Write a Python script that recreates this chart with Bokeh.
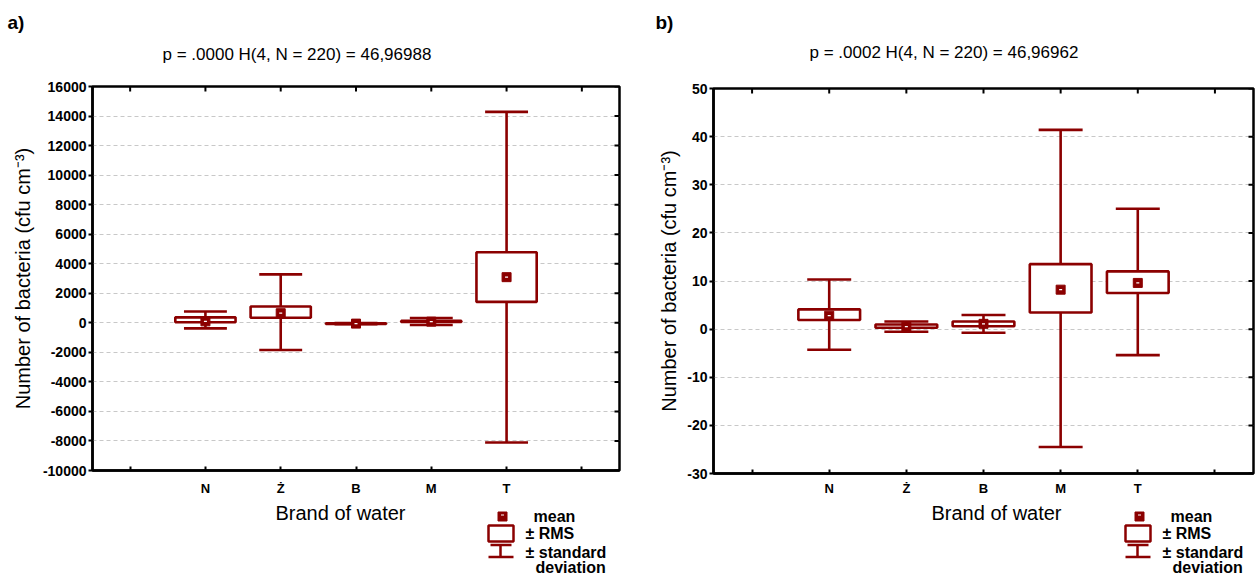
import math
from bokeh.plotting import figure
from bokeh.layouts import row, column
from bokeh.models import (ColumnDataSource, FixedTicker, Range1d, Label, Title,
                          BoxAnnotation, PolyAnnotation)
from bokeh.embed import file_html
from bokeh.resources import INLINE

# ---------------- data ----------------
categories = ["N", "Ż", "B", "M", "T"]
x_ticks = [0, 1, 2, 3, 4, 5, 6]

# panel a)
a_title = "p = .0000 H(4, N = 220) = 46,96988"
a_mean = [100, 650, -55, 80, 3090]
a_rms_lo = [40, 340, -75, 60, 1415]
a_rms_hi = [370, 1100, -35, 130, 4780]
a_sd_lo = [-380, -1840, -95, -150, -8100]
a_sd_hi = [770, 3280, -15, 330, 14280]
a_yticks = [-10000, -8000, -6000, -4000, -2000, 0, 2000, 4000, 6000, 8000,
            10000, 12000, 14000, 16000]

# panel b)
b_title = "p = .0002 H(4, N = 220) = 46,96962"
b_mean = [2.8, 0.5, 1.1, 8.2, 9.6]
b_rms_lo = [1.9, 0.3, 0.6, 3.45, 7.5]
b_rms_hi = [4.1, 0.95, 1.6, 13.5, 12.0]
b_sd_lo = [-4.3, -0.55, -0.75, -24.5, -5.4]
b_sd_hi = [10.3, 1.6, 2.95, 41.4, 25.0]
b_yticks = [-30, -20, -10, 0, 10, 20, 30, 40, 50]

x_label = "Brand of water"
y_label = "Number of bacteria (cfu cm\u207b\u00b3)"
legend_labels = ["mean", "\u00b1 RMS", "\u00b1 standard", "deviation"]

DARK = "#8b0000"
FONT = "Liberation Sans"
BOX_W = 0.8
CAP_W = 0.57
X_MIN, X_MAX = -0.5, 6.5

TOP_H = 66      # strip with panel letter and test title
MAIN_H = 432    # plotting area figure
BOT_H = 77      # strip with x title and legend


def blank_strip(width, height):
    s = figure(width=width, height=height, output_backend="svg", toolbar_location=None,
               x_range=Range1d(0, 1), y_range=Range1d(0, 1),
               x_axis_location=None, y_axis_location=None, title_location=None,
               min_border=0, min_border_left=0, min_border_right=0,
               min_border_top=0, min_border_bottom=0,
               outline_line_color=None, background_fill_color="white",
               border_fill_color="white")
    s.grid.visible = False
    return s


def label(p, x, y, text, size, bold=False, align="left", baseline="middle"):
    p.add_layout(Label(x=x, y=y, x_units="screen", y_units="screen", text=text,
                       text_align=align, text_baseline=baseline, text_font=FONT,
                       text_font_size=size, text_font_style="bold" if bold else "normal",
                       text_color="black"))


def box(p, l, r, b, t, fill, line, lw):
    p.add_layout(BoxAnnotation(left=l, right=r, bottom=b, top=t,
                               left_units="screen", right_units="screen",
                               top_units="screen", bottom_units="screen",
                               fill_color=fill, fill_alpha=1,
                               line_color=line, line_alpha=1, line_width=lw))


def make_main(mean, rms_lo, rms_hi, sd_lo, sd_hi, yticks, width, left, top,
              frame_w, frame_h, ylab_standoff, xlab_standoff):
    p = figure(width=width, height=MAIN_H, title_location=None,
               x_range=Range1d(X_MIN, X_MAX), y_range=Range1d(yticks[0], yticks[-1]),
               output_backend="svg", toolbar_location=None,
               min_border_left=left, min_border_top=top,
               min_border_right=width - left - frame_w,
               min_border_bottom=MAIN_H - top - frame_h,
               background_fill_color="white", border_fill_color="white")
    p.outline_line_color = "black"
    p.outline_line_width = 2.5

    x_over = {t: "" for t in x_ticks}
    for i, c in enumerate(categories):
        x_over[i + 1] = c

    for ax in (p.xaxis[0], p.yaxis[0]):
        ax.minor_tick_line_color = None
        ax.major_tick_line_color = "black"
        ax.major_tick_line_width = 2
        ax.axis_line_color = "black"
        ax.axis_line_width = 2.5
        ax.major_label_text_font = FONT
        ax.major_label_text_font_style = "bold"
        ax.major_label_text_color = "black"

    xa = p.xaxis[0]
    xa.ticker = FixedTicker(ticks=x_ticks)
    xa.major_label_overrides = x_over
    xa.major_label_text_font_size = "13px"
    xa.major_tick_in = 4
    xa.major_tick_out = 0
    xa.major_label_standoff = xlab_standoff

    ya = p.yaxis[0]
    ya.ticker = FixedTicker(ticks=yticks)
    ya.major_label_overrides = {t: str(t) for t in yticks}
    ya.major_label_text_font_size = "14px"
    ya.major_tick_in = 0
    ya.major_tick_out = 4
    ya.major_label_standoff = 2
    ya.axis_label = y_label
    ya.axis_label_text_font = FONT
    ya.axis_label_text_font_size = "20px"
    ya.axis_label_text_font_style = "normal"
    ya.axis_label_text_color = "black"
    ya.axis_label_standoff = ylab_standoff

    p.xgrid.visible = False
    p.ygrid.ticker = FixedTicker(ticks=yticks)
    p.ygrid.grid_line_color = "#c8c8c8"
    p.ygrid.grid_line_dash = "4 3"
    p.ygrid.grid_line_width = 1

    # inner tick marks on the top and right edges (half of each dash is clipped)
    p.scatter(x=x_ticks, y=[yticks[-1]] * len(x_ticks), marker="dash",
              angle=math.pi / 2, size=10, line_color="black", line_width=2)
    p.scatter(x=[X_MAX] * len(yticks), y=yticks, marker="dash", size=10,
              line_color="black", line_width=2)

    xs = [i + 1 for i in range(len(categories))]
    src = ColumnDataSource(dict(
        x=xs, mean=mean, rms_lo=rms_lo, rms_hi=rms_hi, sd_lo=sd_lo, sd_hi=sd_hi,
        cap_l=[v - CAP_W / 2 for v in xs], cap_r=[v + CAP_W / 2 for v in xs],
    ))
    p.segment(x0="x", y0="sd_lo", x1="x", y1="sd_hi", source=src,
              line_color=DARK, line_width=2.6)
    p.segment(x0="cap_l", y0="sd_hi", x1="cap_r", y1="sd_hi", source=src,
              line_color=DARK, line_width=2.6)
    p.segment(x0="cap_l", y0="sd_lo", x1="cap_r", y1="sd_lo", source=src,
              line_color=DARK, line_width=2.6)
    p.vbar(x="x", width=BOX_W, bottom="rms_lo", top="rms_hi", source=src,
           fill_color="white", line_color=DARK, line_width=2.6)
    p.scatter(x="x", y="mean", source=src, marker="square", size=9,
              fill_color=DARK, line_color=DARK, line_width=1)
    p.scatter(x="x", y="mean", source=src, marker="dash", size=3,
              line_color="white", line_width=1.2)
    return p


def make_top(width, letter, letter_offset, title, title_x, title_base):
    s = blank_strip(width, TOP_H)
    s.add_layout(Title(text=letter, align="left", offset=letter_offset, standoff=19,
                       vertical_align="bottom", text_font=FONT, text_font_size="19px",
                       text_font_style="bold", text_color="black"), "above")
    # title text, baseline measured from the bottom of the strip
    label(s, title_x, TOP_H - title_base, title, "17px", baseline="alphabetic")
    return s


def make_bottom(width, xtitle_x, cx):
    s = blank_strip(width, BOT_H)
    label(s, xtitle_x, 63, x_label, "20px", align="center")
    # legend: mean marker, RMS box, SD whisker
    box(s, cx - 4.5, cx + 4.5, 54.5, 63.5, DARK, DARK, 1)
    box(s, cx - 1.5, cx + 1.5, 60, 61, "white", None, 0)
    box(s, cx - 14, cx + 11, 34, 50, "white", DARK, 2.5)
    s.add_layout(PolyAnnotation(
        xs=[cx - 12, cx + 9, cx - 2, cx - 2, cx - 14, cx + 11, cx - 2, cx - 2],
        ys=[30.5, 30.5, 30.5, 18.5, 18.5, 18.5, 18.5, 30.5],
        xs_units="screen", ys_units="screen",
        fill_alpha=0, line_color=DARK, line_alpha=1, line_width=2.5))
    for txt, dx, y in zip(legend_labels, [31, 23, 23, 33], [59.5, 42.5, 23, 8.5]):
        label(s, cx + dx, y, txt, "16px", bold=True)
    return s


WA, WB = 626, 630
LA, LB = 92, 87
main_a = make_main(a_mean, a_rms_lo, a_rms_hi, a_sd_lo, a_sd_hi, a_yticks,
                   width=WA, left=LA, top=20, frame_w=527, frame_h=386,
                   ylab_standoff=6, xlab_standoff=10)
main_b = make_main(b_mean, b_rms_lo, b_rms_hi, b_sd_lo, b_sd_hi, b_yticks,
                   width=WB, left=LB, top=22, frame_w=540, frame_h=387,
                   ylab_standoff=4, xlab_standoff=7)

# strips are frame-aligned with the plot below/above them (x measured from frame left)
col_a = column(make_top(WA, "a)", 7 - LA, a_title, 162 - LA, 54), main_a,
               make_bottom(WA, 340 - LA, 502 - LA))
col_b = column(make_top(WB, "b)", 655 - (WA + LB), b_title, 809 - (WA + LB), 52), main_b,
               make_bottom(WB, 996 - (WA + LB), 1139 - (WA + LB)))

layout = row(col_a, col_b)
open("out.html", "w").write(file_html(layout, INLINE))
